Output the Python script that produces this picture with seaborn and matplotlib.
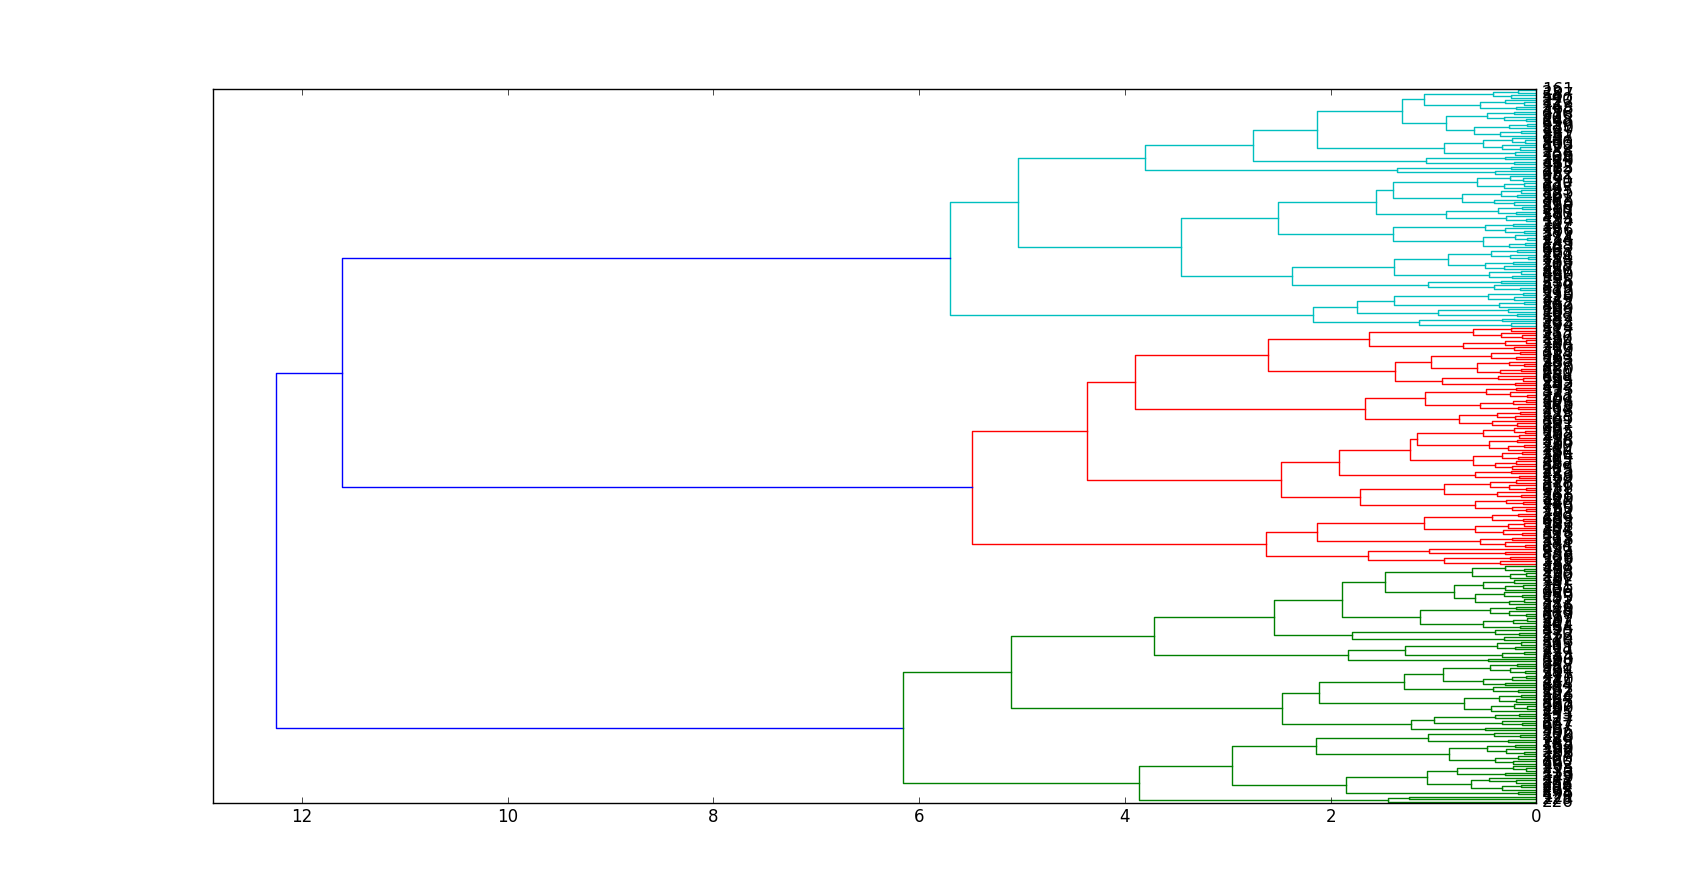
import pandas as pd
import matplotlib
matplotlib.use('Agg')
import matplotlib.pyplot as plt
import seaborn as sns

# merge heights above the three coloured clusters
root_height = 12.25
upper_height = 11.61          # cyan cluster + red cluster
color_threshold = 0.7 * root_height

# cluster trees, written top leaf first: "(height upper_child lower_child)", "." = leaf
cyan_tree = (
    "(5.70"
    " (5.04"
    "  (3.80"
    "   (2.75"
    "    (2.135"
    "     (1.31"
    "      (1.095 (0.42 (0.18 . .) (0.25 . .)) (0.55 (0.30 . (0.12 . .)) (0.20 . .)))"
    "      (0.88 (0.48 (0.22 . .) (0.31 . (0.10 . .))) (0.61 (0.27 (0.09 . .) .) (0.35 (0.15 . .) .))))"
    "     (0.90 (0.52 (0.24 . (0.11 . .)) (0.33 . (0.16 . .))) (0.21 . .)))"
    "    (1.075 (0.30 . .) (0.22 . .)))"
    "   (1.35 (0.25 . .) (0.40 . .)))"
    "  (3.45"
    "   (2.51"
    "    (1.56"
    "     (1.39 (0.58 (0.26 . (0.13 . .)) (0.31 (0.12 . .) .)) (0.72 (0.34 (0.15 . .) (0.19 . .)) (0.41 . (0.22 . .))))"
    "     (0.88 (0.37 (0.14 . .) (0.20 . .)) (0.29 . (0.10 . .))))"
    "    (1.39 (0.50 (0.23 . .) (0.30 . (0.12 . .))) (0.52 (0.21 . (0.09 . .)) (0.27 (0.11 . .) .))))"
    "   (2.38"
    "    (1.38 (0.86 (0.44 (0.19 . .) (0.26 . (0.08 . .))) (0.50 (0.23 . .) (0.31 . .))) (0.46 (0.15 . .) (0.24 . .)))"
    "    (1.05 (0.34 . .) (0.41 . (0.16 . .))))))"
    " (2.17"
    "  (1.74 (1.38 (0.47 (0.13 . .) (0.22 . .)) (0.36 (0.12 . .) .)) (0.96 (0.28 . .) (0.19 . .)))"
    "  (1.14 (0.33 . .) (0.25 . .))))"
)

red_tree = (
    "(5.49"
    " (4.37"
    "  (3.90"
    "   (2.61"
    "    (1.63 (0.62 (0.25 . .) (0.34 . (0.14 . .))) (0.71 (0.30 (0.10 . .) .) (0.22 . .)))"
    "    (1.37"
    "     (1.02 (0.44 (0.16 . .) (0.20 . .)) (0.58 (0.27 . (0.12 . .)) (0.35 (0.15 . .) .)))"
    "     (0.92 (0.37 . (0.13 . .)) (0.21 . .))))"
    "   (1.67"
    "    (1.08 (0.49 (0.20 . .) (0.26 . (0.09 . .))) (0.55 (0.23 (0.10 . .) .) (0.18 . .)))"
    "    (0.75 (0.38 (0.16 . .) (0.21 . .)) (0.43 . (0.19 . .)))))"
    "  (2.48"
    "   (1.92"
    "    (1.23"
    "     (1.16 (0.52 (0.22 . (0.11 . .)) (0.17 . .)) (0.46 (0.19 . .) (0.28 (0.12 . .) .)))"
    "     (0.62 (0.33 (0.14 . .) (0.18 . .)) (0.40 (0.20 . .) (0.24 . .))))"
    "    (0.60 (0.25 . .) (0.17 . .)))"
    "   (1.71"
    "    (0.90 (0.45 (0.20 . .) (0.27 . (0.10 . .))) (0.38 . (0.15 . .)))"
    "    (0.60 (0.29 . (0.13 . .)) (0.24 . (0.10 . .))))))"
    " (2.63"
    "  (2.135"
    "   (1.095 (0.43 (0.18 . .) (0.13 . .)) (0.60 (0.28 (0.12 . .) .) (0.32 . (0.14 . .))))"
    "   (0.55 (0.24 . .) (0.30 . (0.11 . .))))"
    "  (1.64 (1.04 . (0.30 . .)) (0.90 (0.26 . .) (0.35 . .)))))"
)

green_tree = (
    "(6.16"
    " (5.11"
    "  (3.72"
    "   (2.55"
    "    (1.89"
    "     (1.47 (0.63 (0.30 . (0.12 . .)) (0.26 (0.10 . .) .))"
    "           (0.80 (0.52 (0.22 . .) (0.30 (0.13 . .) .)) (0.60 (0.31 . (0.14 . .)) (0.27 (0.12 . .) .))))"
    "     (1.13 (0.45 (0.20 . .) (0.27 . (0.10 . .))) (0.52 (0.23 (0.09 . .) .) (0.16 . .))))"
    "    (1.79 (0.40 . (0.17 . .)) (0.31 . .)))"
    "   (1.83 (1.28 (0.38 (0.15 . .) (0.21 . .)) (0.33 (0.12 . .) .)) (0.47 . .)))"
    "  (2.475"
    "   (2.11"
    "    (1.29"
    "     (0.91 (0.45 (0.19 . .) (0.26 . (0.11 . .))) (0.52 (0.24 (0.10 . .) .) (0.30 . .)))"
    "     (0.42 . (0.18 . .)))"
    "    (0.70 (0.36 (0.15 . .) (0.20 . .)) (0.44 (0.22 . (0.09 . .)) .)))"
    "   (1.22 (0.99 (0.40 (0.17 . .) .) (0.33 . (0.14 . .))) (0.50 . .))))"
    " (3.86"
    "  (2.96"
    "   (2.14"
    "    (1.05 (0.41 . (0.16 . .)) (0.28 . .))"
    "    (0.845 (0.48 (0.21 . .) (0.29 . (0.12 . .))) (0.40 (0.18 . .) (0.23 . .))))"
    "   (1.85"
    "    (1.06 (0.775 (0.23 . (0.10 . .)) (0.30 . .)) (0.635 (0.46 . (0.20 . .)) (0.33 (0.15 . .) .)))"
    "    (0.18 . .)))"
    "  (1.445 (1.24 . .) .)))"
)

# leaf labels, top to bottom
cyan_labels = [161, 23, 187, 54, 290, 112, 7, 243, 168, 35,
               276, 91, 205, 148, 62, 259, 130, 14, 221, 83,
               197, 41, 266, 103, 172, 9, 238, 156, 70, 284,
               119, 48, 212, 185, 27, 252, 96, 141, 3, 230,
               177, 64, 295, 125, 18, 201, 88, 263, 150, 31,
               216, 107, 280, 57, 193, 134, 11, 247, 79, 166,
               38, 271, 114, 224, 2, 189, 143, 60, 298, 101,
               234, 75, 158, 21, 208, 127, 286, 45, 180, 94,
               255, 136, 5, 219, 67, 170, 293, 110, 42, 245,
               152, 86, 199, 16, 268, 122, 58, 232, 183, 29]
red_labels = [174, 51, 283, 117, 236, 12, 194, 72, 260, 139,
              33, 214, 98, 163, 288, 46, 227, 120, 6, 250,
              181, 65, 299, 105, 242, 19, 153, 87, 273, 131,
              40, 209, 176, 56, 264, 113, 1, 228, 145, 80,
              191, 28, 257, 99, 165, 282, 49, 218, 138, 10,
              240, 71, 184, 296, 124, 36, 203, 157, 84, 269,
              115, 22, 233, 169, 53, 278, 146, 0, 211, 92,
              188, 261, 129, 44, 246, 77, 160, 15, 223, 104,
              289, 63, 198, 137, 26, 254, 178, 89, 213, 118,
              39, 274, 151, 69, 239, 8, 186, 128, 291, 32]
green_labels = [167, 43, 279, 108, 220, 13, 192, 74, 251, 135,
                30, 206, 97, 159, 285, 52, 231, 116, 4, 248,
                179, 61, 297, 102, 241, 20, 154, 85, 270, 132,
                37, 210, 173, 59, 265, 111, 25, 229, 144, 81,
                190, 34, 258, 95, 164, 281, 47, 217, 140, 17,
                244, 68, 182, 292, 123, 50, 204, 155, 82, 267,
                109, 24, 235, 171, 55, 277, 147, 66, 207, 93,
                196, 262, 126, 73, 249, 78, 162, 100, 222, 106,
                287, 76, 200, 142, 90, 253, 175, 133, 215, 149,
                272, 237, 256, 294, 202, 275, 195, 121, 225, 226]

palette = {'b': '#0000ff', 'c': '#00bfbf', 'r': '#ff0000', 'g': '#008000'}


def parse(text):
    toks = text.replace('(', ' ( ').replace(')', ' ) ').split()
    pos = 0

    def node():
        nonlocal pos
        tok = toks[pos]
        pos += 1
        if tok == '.':
            return None
        h = float(toks[pos])
        pos += 1
        a = node()
        b = node()
        pos += 1  # closing paren
        return (h, a, b)
    return node()


tree = (root_height,
        (upper_height, ('c', parse(cyan_tree)), ('r', parse(red_tree))),
        ('g', parse(green_tree)))
labels = [str(v) for v in cyan_labels + red_labels + green_labels]
n = len(labels)

rows = []
leaf_y = []


def layout(node, color='b'):
    if node is None:
        y = 10 * (n - 1 - len(leaf_y)) + 5
        leaf_y.append(y)
        return y, 0.0
    if isinstance(node[0], str):
        return layout(node[1], node[0])
    h, a, b = node
    ya, ha = layout(a, color)
    yb, hb = layout(b, color)
    c = color if h < color_threshold else 'b'
    link = len(rows) // 4
    for x, y in [(ha, ya), (h, ya), (h, yb), (hb, yb)]:
        rows.append({'link': link, 'x': x, 'y': y, 'color': c})
    return (ya + yb) / 2.0, h


layout(tree)
links = pd.DataFrame(rows)

plt.style.use('classic')
fig = plt.figure(figsize=(17.07, 8.92), dpi=100, facecolor='white')
ax = fig.add_subplot(111)

sns.lineplot(data=links, x='x', y='y', units='link', hue='color', palette=palette,
             estimator=None, sort=False, legend=False, linewidth=1, ax=ax)

ax.set_xlim(root_height * 1.05, 0)
ax.set_ylim(0, 10 * n)
ax.set_xlabel('')
ax.set_ylabel('')
ax.set_yticks(leaf_y)
ax.set_yticklabels(labels)
ax.yaxis.set_ticks_position('right')
ax.tick_params(axis='y', labelsize=12)
for t in ax.get_yticklines():
    t.set_visible(False)

fig.savefig('out.png', dpi=100, facecolor='white')
